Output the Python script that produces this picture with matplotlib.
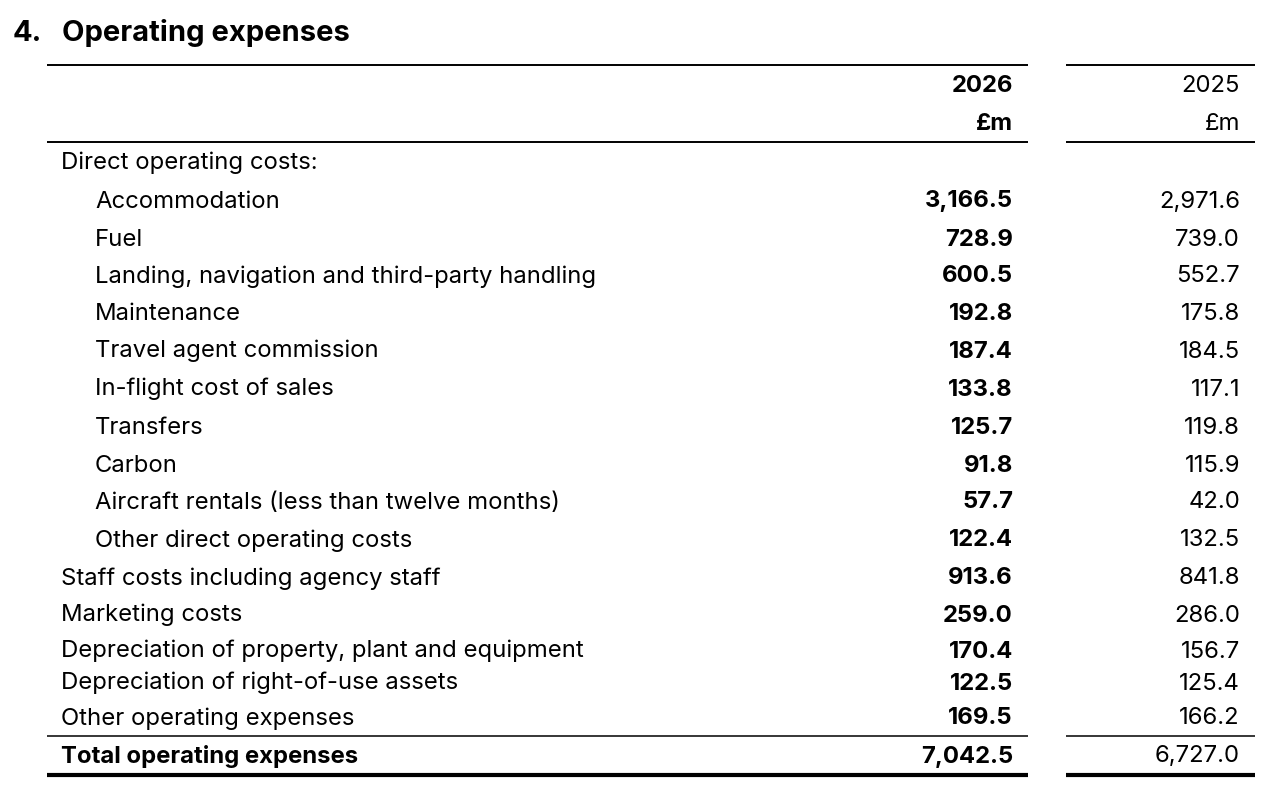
import matplotlib
matplotlib.use("Agg")
import matplotlib.pyplot as plt

# table contents
labels = ["Direct operating costs:", "Accommodation", "Fuel",
          "Landing, navigation and third-party handling", "Maintenance",
          "Travel agent commission", "In-flight cost of sales", "Transfers",
          "Carbon", "Aircraft rentals (less than twelve months)",
          "Other direct operating costs", "Staff costs including agency staff",
          "Marketing costs", "Depreciation of property, plant and equipment",
          "Depreciation of right-of-use assets", "Other operating expenses"]
indent = [0, 1, 1, 1, 1, 1, 1, 1, 1, 1, 1, 0, 0, 0, 0, 0]
v2026 = [None, "3,166.5", "728.9", "600.5", "192.8", "187.4", "133.8", "125.7",
         "91.8", "57.7", "122.4", "913.6", "259.0", "170.4", "122.5", "169.5"]
v2025 = [None, "2,971.6", "739.0", "552.7", "175.8", "184.5", "117.1", "119.8",
         "115.9", "42.0", "132.5", "841.8", "286.0", "156.7", "125.4", "166.2"]
total_label = "Total operating expenses"
total_2026 = "7,042.5"
total_2025 = "6,727.0"
years = ["2026", "2025"]

row_y = [161, 199, 237, 274, 312, 349, 387, 425, 463, 500, 538, 576, 613, 649, 681, 716]
total_y = 754

FONT = "Inter"
FS = 17.2
BASE = 8.5  # baseline offset below the row centre

fig = plt.figure(figsize=(12.78, 7.92), dpi=100)
ax = fig.add_axes([0, 0, 1, 1])
ax.set_xlim(0, 1278)
ax.set_ylim(792, 0)
ax.axis("off")

ax.text(13, 41, "4.", fontsize=21, fontweight="bold", family=FONT, va="baseline")
ax.text(62, 41, "Operating expenses", fontsize=21, fontweight="bold", family=FONT, va="baseline")

L1, R1 = 47, 1028
L2, R2 = 1066, 1255
X26, X25 = 1013, 1240

def hline(y, lw):
    ax.plot([L1, R1], [y, y], color="black", lw=lw, solid_capstyle="butt")
    ax.plot([L2, R2], [y, y], color="black", lw=lw, solid_capstyle="butt")

hline(65, 1.4)
hline(142, 1.4)
hline(736, 1.1)
hline(775, 3.0)

def txt(x, y, s, bold=False, ha="left"):
    ax.text(x, y + BASE, s, ha=ha, va="baseline", fontsize=FS,
            fontweight="bold" if bold else "normal", family=FONT)

txt(X26, 83, years[0], True, "right")
txt(X26, 122, "£m", True, "right")
txt(X25, 83, years[1], False, "right")
txt(X25, 122, "£m", False, "right")

for lab, ind, a, b, y in zip(labels, indent, v2026, v2025, row_y):
    txt(95 if ind else 61, y, lab)
    if a is not None:
        txt(X26, y, a, True, "right")
        txt(X25, y, b, False, "right")

txt(61, total_y, total_label, True)
txt(X26, total_y, total_2026, True, "right")
txt(X25, total_y, total_2025, False, "right")

fig.savefig("out.png", dpi=100)
